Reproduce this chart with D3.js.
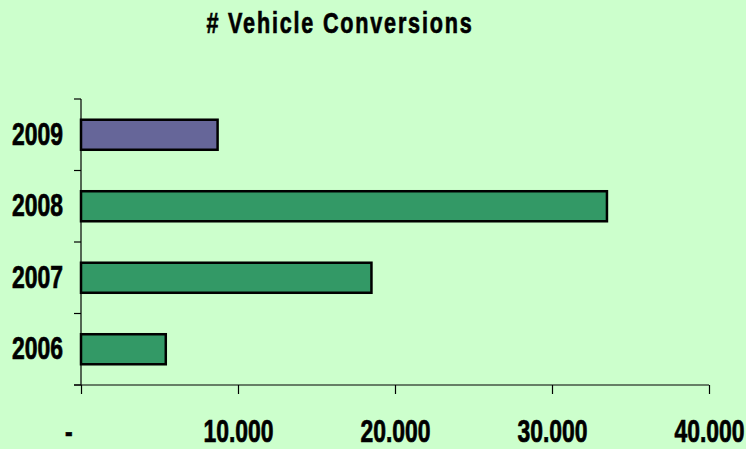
<!DOCTYPE html>
<html>
<head>
<meta charset="utf-8">
<script src="https://cdn.jsdelivr.net/npm/d3@7"></script>
<style>
  body { margin: 0; background: #ccffcc; }
  text { font-family: "Liberation Sans", Arial, sans-serif; font-weight: bold; stroke: #000; stroke-width: 0.7px; }
</style>
</head>
<body>
<div id="chart"></div>
<script>
const years = ["2006", "2007", "2008", "2009"]
const conversions = [5400, 18500, 33500, 8700]
const xTicks = [0, 10000, 20000, 30000, 40000]
const xTickLabels = ["-", "10.000", "20.000", "30.000", "40.000"]

const wh = 746,
    ht = 449

const margin = {top: 99, right: 37, bottom: 64, left: 81}

// narrow look: Liberation Sans squeezed sideways
const narrow = "scale(0.74,1)"

const svg = d3.select("#chart")
    .append("svg")
    .attr("width", wh)
    .attr("height", ht)

svg.append("rect")
    .attr("width", wh)
    .attr("height", ht)
    .attr("fill", "#ccffcc")

var data = years.map(function(y, i) { return {year: y, value: conversions[i]} })

var x = d3.scaleLinear()
    .domain([0, 40000])
    .range([margin.left, wh - margin.right])

var y = d3.scaleBand()
    .domain(years.slice().reverse())
    .range([margin.top, ht - margin.bottom])
    .paddingInner(0.58)
    .paddingOuter(0.29)

// bars
svg.selectAll("rect.bar").data(data)
    .enter()
    .append("rect")
    .attr("class", "bar")
    .attr("x", x(0))
    .attr("y", function(d) { return y(d.year) })
    .attr("width", function(d) { return x(d.value) - x(0) })
    .attr("height", y.bandwidth())
    .attr("fill", function(d) { return d.year == "2009" ? "#666699" : "#339966" })
    .attr("stroke", "#000")
    .attr("stroke-width", 2.5)

// y axis: ticks sit between the categories
var yAxisG = svg.append("g")
var bounds = [margin.top].concat(years.slice().reverse().map(function(yr) {
    return y(yr) + y.bandwidth() + y.step() * y.paddingInner() / 2
}))
bounds[bounds.length - 1] = ht - margin.bottom

yAxisG.append("line")
    .attr("x1", x(0)).attr("x2", x(0))
    .attr("y1", margin.top).attr("y2", ht - margin.bottom)
    .attr("stroke", "#000").attr("stroke-width", 1.2)

yAxisG.selectAll("line.tick").data(bounds)
    .enter()
    .append("line")
    .attr("x1", x(0) - 7).attr("x2", x(0))
    .attr("y1", function(d) { return d }).attr("y2", function(d) { return d })
    .attr("stroke", "#000").attr("stroke-width", 1.2)

yAxisG.selectAll("text").data(years)
    .enter()
    .append("text")
    .attr("transform", function(d) { return "translate(63," + (y(d) + y.bandwidth() / 2 - 1) + ") " + narrow })
    .attr("dy", "0.36em")
    .attr("text-anchor", "end")
    .attr("font-size", 31)
    .text(function(d) { return d })

// x axis
var xAxis = d3.axisBottom(x)
    .tickValues(xTicks)
    .tickSize(9)
    .tickPadding(26)
    .tickFormat(function(d, i) { return xTickLabels[i] })

var xAxisG = svg.append("g")
    .attr("transform", "translate(0," + (ht - margin.bottom) + ")")
    .call(xAxis)

xAxisG.select(".domain")
    .attr("d", "M" + (x(0) - 7) + ",0H" + x(40000))
    .attr("stroke-width", 1.2)
xAxisG.selectAll(".tick line").attr("stroke-width", 1.2)
xAxisG.selectAll(".tick text")
    .attr("font-size", 31)
    .attr("fill", "#000")
    .attr("font-family", null)
    .attr("transform", narrow)
xAxisG.selectAll(".tick text")
    .filter(function(d) { return d == 0 })
    .attr("x", -17)

// title
svg.append("text")
    .attr("transform", "translate(340,33) scale(0.72,1)")
    .attr("text-anchor", "middle")
    .attr("font-size", 30)
    .attr("letter-spacing", 2.5)
    .text("# Vehicle Conversions")
</script>
</body>
</html>
